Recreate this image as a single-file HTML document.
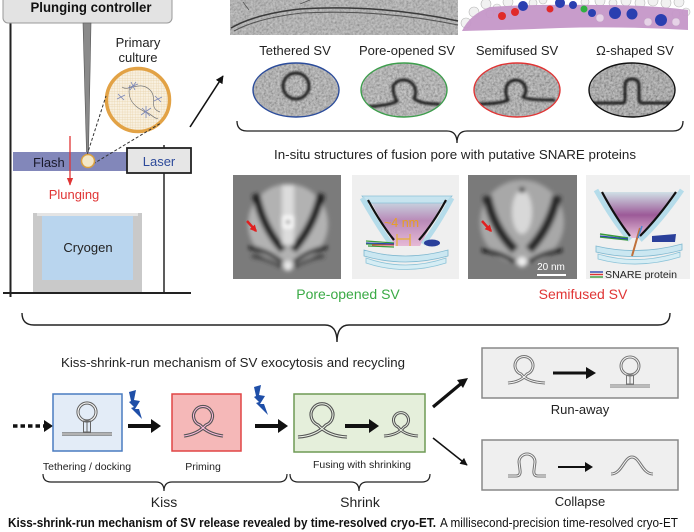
<!DOCTYPE html>
<html><head><meta charset="utf-8">
<style>
html,body{margin:0;padding:0;background:#fff;}
svg{display:block;}
text{font-family:"Liberation Sans",Arial,sans-serif;}
</style></head>
<body>
<svg width="694" height="532" viewBox="0 0 694 532" xmlns="http://www.w3.org/2000/svg">
<defs>
  <filter id="noise" x="0" y="0" width="100%" height="100%">
    <feTurbulence type="fractalNoise" baseFrequency="0.45" numOctaves="2" seed="4"/>
    <feColorMatrix type="matrix" values="1 0 0 0 0  1 0 0 0 0  1 0 0 0 0  0 0 0 0 1"/>
  </filter>
  <filter id="blur2"><feGaussianBlur stdDeviation="2.2"/></filter>
  <filter id="blur1"><feGaussianBlur stdDeviation="1"/></filter>
  <pattern id="grid" width="2.6" height="2.6" patternUnits="userSpaceOnUse">
    <path d="M0,0 L2.6,0 M0,0 L0,2.6" stroke="#e6cfa4" stroke-width="0.6"/>
  </pattern>
  <clipPath id="c1"><ellipse cx="296" cy="90" rx="43" ry="27"/></clipPath>
  <clipPath id="c2"><ellipse cx="404" cy="90" rx="43" ry="27"/></clipPath>
  <clipPath id="c3"><ellipse cx="517" cy="90" rx="43" ry="27"/></clipPath>
  <clipPath id="c4"><ellipse cx="632" cy="90" rx="43" ry="27"/></clipPath>
  <clipPath id="ci1"><rect x="233" y="175" width="108" height="104"/></clipPath>
  <clipPath id="ci3"><rect x="468" y="175" width="109" height="104"/></clipPath>
  <clipPath id="cc"><circle cx="138" cy="100" r="30"/></clipPath>
  <linearGradient id="fun1" x1="0" y1="0" x2="0" y2="1">
    <stop offset="0" stop-color="#c9dbe3"/>
    <stop offset="0.45" stop-color="#b98ab8"/>
    <stop offset="1" stop-color="#e6b9d6"/>
  </linearGradient>
  <linearGradient id="fun2" x1="0" y1="0" x2="0" y2="1">
    <stop offset="0" stop-color="#d0e0e6"/>
    <stop offset="0.5" stop-color="#9c5a98"/>
    <stop offset="1" stop-color="#e9bfd9"/>
  </linearGradient>
  <marker id="ah" viewBox="0 0 10 10" refX="9" refY="5" markerWidth="5" markerHeight="5" orient="auto"><path d="M0,0 L10,5 L0,10 Z" fill="#111"/></marker>
  <marker id="ahr" viewBox="0 0 10 10" refX="9" refY="5" markerWidth="6" markerHeight="6" orient="auto"><path d="M0,1 L10,5 L0,9 Z" fill="#e03535"/></marker>
  <marker id="ahs" viewBox="0 0 10 10" refX="8" refY="5" markerWidth="7" markerHeight="7" markerUnits="userSpaceOnUse" orient="auto"><path d="M0,0 L10,5 L0,10 Z" fill="#e02020"/></marker>
</defs>

<!-- ================= LEFT: plunger apparatus ================= -->
<line x1="10.5" y1="0" x2="10.5" y2="297" stroke="#222" stroke-width="2"/>
<rect x="3" y="-6" width="169" height="29" rx="5" fill="#e3e3e3" stroke="#9a9a9a" stroke-width="1"/>
<text x="91" y="12" font-size="13.5" font-weight="bold" text-anchor="middle" fill="#111" textLength="121" lengthAdjust="spacingAndGlyphs">Plunging controller</text>
<polygon points="83,23 91,23 88.5,152 86.5,152" fill="#8a8a8a" stroke="#555" stroke-width="0.6"/>

<rect x="13" y="152" width="116" height="19" fill="#8287ba"/>
<text x="33" y="167" font-size="13" fill="#1a1a2a">Flash</text>
<line x1="164" y1="145" x2="164" y2="293" stroke="#333" stroke-width="1.6"/>
<rect x="127" y="148" width="64" height="25" fill="#e6e6e6" stroke="#222" stroke-width="1.8"/>
<text x="159" y="166" font-size="13" text-anchor="middle" fill="#2d4a9a">Laser</text>

<text x="138" y="47" font-size="13" text-anchor="middle" fill="#222">Primary</text>
<text x="138" y="62" font-size="13" text-anchor="middle" fill="#222">culture</text>
<circle cx="138" cy="100" r="31.5" fill="#f8f0e0"/>
<g clip-path="url(#cc)">
  <rect x="105" y="68" width="66" height="66" fill="url(#grid)"/>
  <path d="M122,87 C128,92 140,80 150,90 C158,98 148,108 160,112 M130,85 C126,100 135,108 148,113 C152,115 156,120 158,118" stroke="#777" stroke-width="0.7" fill="none"/>
  <g stroke="#7a86b8" stroke-width="0.8">
    <path d="M131,82 L135,90 M128,88 L138,84 M130,90 L136,82"/>
    <path d="M142,108 L150,116 M141,115 L151,108 M146,106 L146,118"/>
    <path d="M118,94 L124,100 M117,99 L125,95"/>
    <path d="M155,96 L161,102 M154,101 L162,97"/>
  </g>
</g>
<circle cx="138" cy="100" r="31.5" fill="none" stroke="#e2a245" stroke-width="3.5"/>
<line x1="87" y1="155" x2="106" y2="96" stroke="#333" stroke-width="1" stroke-dasharray="3,2"/>
<line x1="93" y1="164" x2="161" y2="123" stroke="#333" stroke-width="1" stroke-dasharray="3,2"/>
<circle cx="88" cy="161" r="6.5" fill="#f4e8c8" stroke="#d9a040" stroke-width="1.5"/>

<line x1="70" y1="136" x2="70" y2="185" stroke="#e03535" stroke-width="1.3" marker-end="url(#ahr)"/>
<text x="74" y="199" font-size="13" text-anchor="middle" fill="#e03535">Plunging</text>

<rect x="33" y="213" width="109" height="80" fill="#c9c9c9"/>
<rect x="37" y="213" width="101" height="3" fill="#e4e4e4"/>
<rect x="42" y="216" width="91" height="64" fill="#b9d5ee"/>
<text x="88" y="252" font-size="13" text-anchor="middle" fill="#222">Cryogen</text>
<line x1="3" y1="293" x2="191" y2="293" stroke="#222" stroke-width="2"/>

<line x1="190" y1="127" x2="223" y2="76" stroke="#111" stroke-width="1.6" marker-end="url(#ah)"/>

<!-- ================= TOP RIGHT images ================= -->
<rect x="230" y="0" width="228" height="35" fill="#a9a9a9"/>
<rect x="230" y="0" width="228" height="35" filter="url(#noise)" opacity="0.45"/>
<path d="M231,28 Q255,14 300,9 Q380,4 458,21" stroke="#3a3a3a" stroke-width="1.5" fill="none"/>
<path d="M234,31 Q258,18 302,13 Q380,9 458,25" stroke="#555" stroke-width="1.1" fill="none"/>
<path d="M300,4 L310,0 M243,2 L249,10" stroke="#555" stroke-width="0.8" fill="none"/>

<g>
  <g fill="#f1f1f1" stroke="#b8b8b8" stroke-width="0.6">
    <circle cx="466" cy="23" r="5"/><circle cx="474" cy="12" r="5"/><circle cx="486" cy="4" r="5"/>
    <circle cx="497" cy="8" r="4"/><circle cx="508" cy="2" r="5"/><circle cx="533" cy="3" r="4"/>
    <circle cx="543" cy="0" r="4"/><circle cx="585" cy="2" r="4"/><circle cx="600" cy="1" r="5"/>
    <circle cx="613" cy="3" r="4"/><circle cx="626" cy="1" r="5"/><circle cx="640" cy="3" r="5"/>
    <circle cx="653" cy="1" r="5"/><circle cx="666" cy="3" r="5"/><circle cx="679" cy="2" r="5"/>
    <circle cx="686" cy="12" r="4"/><circle cx="676" cy="14" r="4"/><circle cx="490" cy="14" r="4"/>
  </g>
  <path d="M462,31 Q470,14 490,7 Q530,4 600,5 Q650,5 688,10 L688,30 Q620,26 560,28 Q510,30 462,31 Z" fill="#c597c8" opacity="0.95"/>
  <g fill="#f3eaf3" stroke="#bfa5c2" stroke-width="0.5" opacity="0.7">
    <circle cx="648" cy="22" r="4"/><circle cx="676" cy="22" r="4"/><circle cx="600" cy="18" r="4"/>
  </g>
  <g fill="#e02a2a"><circle cx="502" cy="16" r="4"/><circle cx="515" cy="12" r="4"/><circle cx="550" cy="9" r="3.5"/></g>
  <g fill="#2a3fb0"><circle cx="523" cy="6" r="5"/><circle cx="560" cy="3" r="5"/><circle cx="573" cy="5" r="4"/>
    <circle cx="592" cy="13" r="4"/><circle cx="615" cy="13" r="6"/><circle cx="632" cy="14" r="5.5"/><circle cx="661" cy="20" r="6"/></g>
  <circle cx="584" cy="9" r="3.5" fill="#30b040"/>
</g>

<text x="295" y="55" font-size="13" text-anchor="middle" fill="#222">Tethered SV</text>
<text x="407" y="55" font-size="13" text-anchor="middle" fill="#222">Pore-opened SV</text>
<text x="517" y="55" font-size="13" text-anchor="middle" fill="#222">Semifused SV</text>
<text x="635" y="55" font-size="13" text-anchor="middle" fill="#222">Ω-shaped SV</text>

<g clip-path="url(#c1)">
  <rect x="250" y="60" width="95" height="60" fill="#a3a3a3"/>
  <rect x="250" y="60" width="95" height="60" filter="url(#noise)" opacity="0.55"/>
  <circle cx="296" cy="86" r="13" fill="none" stroke="#1e1e1e" stroke-width="3" filter="url(#blur1)"/>
  <path d="M250,105 L345,105" stroke="#2a2a2a" stroke-width="3" filter="url(#blur1)"/>
</g>
<ellipse cx="296" cy="90" rx="43" ry="27" fill="none" stroke="#2b4c9b" stroke-width="1.4"/>

<g clip-path="url(#c2)">
  <rect x="358" y="60" width="95" height="60" fill="#a6a6a6"/>
  <rect x="358" y="60" width="95" height="60" filter="url(#noise)" opacity="0.55"/>
  <path d="M360,107 Q390,106 397,101 Q393,96 393,86 A12,12 0 1 1 414,98 Q418,104 440,104" stroke="#1e1e1e" stroke-width="3" fill="none" filter="url(#blur1)"/>
</g>
<ellipse cx="404" cy="90" rx="43" ry="27" fill="none" stroke="#3d9e4c" stroke-width="1.4"/>

<g clip-path="url(#c3)">
  <rect x="470" y="60" width="95" height="60" fill="#9d9d9d"/>
  <rect x="470" y="60" width="95" height="60" filter="url(#noise)" opacity="0.55"/>
  <path d="M478,104 Q500,104 508,100 Q505,94 506,88 A10,10 0 1 1 523,97 Q526,100 555,100" stroke="#1a1a1a" stroke-width="3" fill="none" filter="url(#blur1)"/>
</g>
<ellipse cx="517" cy="90" rx="43" ry="27" fill="none" stroke="#e03535" stroke-width="1.4"/>

<g clip-path="url(#c4)">
  <rect x="585" y="60" width="95" height="60" fill="#8e8e8e"/>
  <rect x="585" y="60" width="95" height="60" filter="url(#noise)" opacity="0.6"/>
  <path d="M588,103 L623,103 Q625,103 625,98 L625,86 Q625,79 632,79 Q639,79 639,86 L639,98 Q639,103 642,103 L676,103" stroke="#1c1c1c" stroke-width="3" fill="none" filter="url(#blur1)"/>
</g>
<ellipse cx="632" cy="90" rx="43" ry="27" fill="none" stroke="#111" stroke-width="1.4"/>

<path d="M237,121 Q237,131 247,131 L447,131 Q457,131 457,143 Q457,131 467,131 L673,131 Q683,131 683,121" stroke="#222" stroke-width="1.3" fill="none"/>
<text x="455" y="159" font-size="12.5" text-anchor="middle" fill="#222" textLength="362" lengthAdjust="spacingAndGlyphs">In-situ structures of fusion pore with putative SNARE proteins</text>

<g clip-path="url(#ci1)">
  <rect x="233" y="175" width="108" height="104" fill="#7b7b7b"/>
  <g filter="url(#blur2)">
    <circle cx="288" cy="224" r="40" fill="#b2b2b2"/>
    <path d="M256,194 Q262,226 283,250" stroke="#1e1e1e" stroke-width="8" fill="none"/>
    <path d="M321,194 Q314,226 293,250" stroke="#1e1e1e" stroke-width="8" fill="none"/>
    <path d="M249,247 Q268,251 282,262" stroke="#111" stroke-width="4" fill="none"/>
    <path d="M327,247 Q308,251 294,262" stroke="#111" stroke-width="4" fill="none"/>
    <path d="M252,256 Q268,258 282,267" stroke="#333" stroke-width="3" fill="none"/>
    <path d="M324,256 Q308,258 294,267" stroke="#333" stroke-width="3" fill="none"/>
    <rect x="282" y="185" width="12" height="60" fill="#dcdcdc"/>
    <rect x="282" y="216" width="12" height="12" fill="#fff"/>
    <rect x="286" y="220" width="4" height="4" fill="#555"/>
    <circle cx="288" cy="266" r="5" fill="#e8e8e8"/>
  </g>
</g>
<line x1="247" y1="221" x2="256" y2="231" stroke="#e02020" stroke-width="2.5" marker-end="url(#ahs)"/>

<rect x="352" y="175" width="107" height="104" fill="#efefef"/>
<polygon points="370,200 444,200 420,246 395,246" fill="url(#fun1)"/>
<path d="M362,196 L452,196 L446,203 L368,203 Z" fill="#c7e4ef" stroke="#8dc1d6" stroke-width="0.8"/>
<path d="M362,198 Q378,226 391,244" stroke="#b5dcea" stroke-width="5" fill="none"/>
<path d="M452,198 Q437,226 423,244" stroke="#b5dcea" stroke-width="5" fill="none"/>
<path d="M368,200 Q381,224 394,240" stroke="#111" stroke-width="2.2" fill="none"/>
<path d="M446,200 Q433,224 419,240" stroke="#111" stroke-width="2.2" fill="none"/>
<path d="M364,250 Q405,262 448,250 L448,256 Q405,268 364,256 Z" fill="#cbe7f1" stroke="#7fb8d0" stroke-width="0.8"/>
<path d="M366,258 Q405,272 446,258 L446,263 Q405,276 366,263 Z" fill="#d6edf4" stroke="#8cc3d8" stroke-width="0.8"/>
<ellipse cx="432" cy="243" rx="8" ry="3.5" fill="#2a3f9a"/>
<path d="M366,241 L394,243 M366,244 L394,245 M368,246 L394,247" stroke="#3a9a3a" stroke-width="1.2"/>
<path d="M366,243 L394,244" stroke="#2a48b0" stroke-width="1.2"/>
<path d="M372,245 L394,245" stroke="#d33" stroke-width="1"/>
<text x="384" y="227" font-size="12.5" fill="#e8a020">~4 nm</text>
<path d="M397,239 L410,239 M397,234 L397,246 M410,234 L410,246" stroke="#e8b030" stroke-width="1.2"/>

<g clip-path="url(#ci3)">
  <rect x="468" y="175" width="109" height="104" fill="#7a7a7a"/>
  <g filter="url(#blur2)">
    <circle cx="522" cy="222" r="42" fill="#a8a8a8"/>
    <path d="M487,196 Q493,228 515,250" stroke="#262626" stroke-width="9" fill="none"/>
    <path d="M557,196 Q550,228 529,250" stroke="#262626" stroke-width="9" fill="none"/>
    <path d="M482,250 Q500,252 515,262" stroke="#111" stroke-width="4" fill="none"/>
    <path d="M562,250 Q544,252 529,262" stroke="#111" stroke-width="4" fill="none"/>
    <ellipse cx="522" cy="212" rx="10" ry="22" fill="#d8d8d8"/>
    <circle cx="522" cy="190" r="3" fill="#333"/>
    <circle cx="522" cy="262" r="5" fill="#eee"/>
  </g>
</g>
<line x1="482" y1="221" x2="491" y2="231" stroke="#e02020" stroke-width="2.5" marker-end="url(#ahs)"/>
<text x="551" y="270" font-size="10" text-anchor="middle" fill="#fff">20 nm</text>
<rect x="537" y="274" width="29" height="2" fill="#fff"/>

<rect x="586" y="175" width="104" height="104" fill="#f0f0f0"/>
<polygon points="600,192 678,192 640,238 628,238" fill="url(#fun2)"/>
<path d="M596,190 Q614,222 630,240" stroke="#b5dcea" stroke-width="5" fill="none"/>
<path d="M682,190 Q660,222 640,240" stroke="#b5dcea" stroke-width="5" fill="none"/>
<path d="M602,192 Q616,218 630,236" stroke="#111" stroke-width="2.2" fill="none"/>
<path d="M676,192 Q658,218 640,236" stroke="#111" stroke-width="2.2" fill="none"/>
<path d="M596,246 Q638,256 682,244 L682,250 Q638,262 596,252 Z" fill="#cbe7f1" stroke="#7fb8d0" stroke-width="0.8"/>
<path d="M598,254 Q638,266 680,252 L680,257 Q638,270 598,259 Z" fill="#d6edf4" stroke="#8cc3d8" stroke-width="0.8"/>
<path d="M652,236 L676,234 L675,242 L652,242 Z" fill="#2a3f9a"/>
<path d="M600,234 L628,238 M600,237 L628,240" stroke="#3a9a3a" stroke-width="1.4"/>
<path d="M600,236 L628,239" stroke="#2a48b0" stroke-width="1.2"/>
<line x1="640" y1="228" x2="632" y2="256" stroke="#c0703a" stroke-width="2"/>
<line x1="642" y1="226" x2="638" y2="238" stroke="#4a8ad0" stroke-width="1.5"/>
<path d="M590,272 L603,272" stroke="#2a48b0" stroke-width="1.4"/>
<path d="M590,274.5 L603,274.5" stroke="#d33" stroke-width="1.4"/>
<path d="M590,277 L603,277" stroke="#3a9a3a" stroke-width="1.4"/>
<text x="605" y="278" font-size="10.5" fill="#222" textLength="72" lengthAdjust="spacingAndGlyphs">SNARE protein</text>

<text x="348" y="299" font-size="14" text-anchor="middle" fill="#3aaa45">Pore-opened SV</text>
<text x="583" y="299" font-size="14" text-anchor="middle" fill="#e03535">Semifused SV</text>

<path d="M22,313 Q22,325 34,325 L325,325 Q337,325 337,342 Q337,325 349,325 L658,325 Q670,325 670,313" stroke="#222" stroke-width="1.4" fill="none"/>
<text x="233" y="367" font-size="12.5" text-anchor="middle" fill="#222" textLength="344" lengthAdjust="spacingAndGlyphs">Kiss-shrink-run mechanism of SV exocytosis and recycling</text>

<!-- ================= Bottom flow ================= -->
<line x1="13" y1="426" x2="44" y2="426" stroke="#111" stroke-width="3.5" stroke-dasharray="4.5,3"/>
<polygon points="44,420 53,426 44,432" fill="#111"/>

<rect x="53" y="394" width="69" height="57" fill="#e3ecf7" stroke="#4a7cc0" stroke-width="1.5"/>
<g fill="none">
  <circle cx="87" cy="412" r="9" stroke="#666" stroke-width="3.2"/>
  <circle cx="87" cy="412" r="9" stroke="#fff" stroke-width="1.1"/>
  <path d="M62,434 L112,434" stroke="#666" stroke-width="3.2"/>
  <path d="M62,434 L112,434" stroke="#fff" stroke-width="1.1"/>
  <rect x="83.5" y="421" width="7" height="11" stroke="#666" stroke-width="1"/>
  <line x1="87" y1="421" x2="87" y2="432" stroke="#666" stroke-width="1"/>
</g>

<polygon points="129,392 136,390 134,400 140,401 135,409 139,409 142,419 131,408 134,407 129,402 131,401" fill="#1f4fa8"/>
<line x1="128" y1="426" x2="152" y2="426" stroke="#111" stroke-width="4"/>
<polygon points="151,419 161,426 151,433" fill="#111"/>

<rect x="172" y="394" width="69" height="57" fill="#f5b8b8" stroke="#e04545" stroke-width="1.5"/>
<g fill="none">
  <path d="M184,436 Q198,434 206,425 A9.5,9.5 0 1 0 200,425 Q208,434 223,436" stroke="#555" stroke-width="3.2"/>
  <path d="M184,436 Q198,434 206,425 A9.5,9.5 0 1 0 200,425 Q208,434 223,436" stroke="#fbd" stroke-width="1"/>
</g>

<polygon points="254,387 261,385 259,395 265,396 260,404 264,404 268,415 256,403 259,402 254,397 256,396" fill="#1f4fa8"/>
<line x1="255" y1="426" x2="279" y2="426" stroke="#111" stroke-width="4"/>
<polygon points="278,419 288,426 278,433" fill="#111"/>

<rect x="294" y="394" width="131" height="58" fill="#e5efdb" stroke="#6f9a55" stroke-width="1.5"/>
<g fill="none">
  <path d="M298,437 Q316,436 326,425 A11,11 0 1 0 318,425 Q328,436 347,437" stroke="#555" stroke-width="3.2"/>
  <path d="M298,437 Q316,436 326,425 A11,11 0 1 0 318,425 Q328,436 347,437" stroke="#eef5e8" stroke-width="1"/>
  <path d="M384,436 Q398,435 404,427 A7.5,7.5 0 1 0 398,427 Q404,435 418,436" stroke="#555" stroke-width="3"/>
  <path d="M384,436 Q398,435 404,427 A7.5,7.5 0 1 0 398,427 Q404,435 418,436" stroke="#eef5e8" stroke-width="0.9"/>
</g>
<line x1="345" y1="426" x2="370" y2="426" stroke="#111" stroke-width="4"/>
<polygon points="369,419 379,426 369,433" fill="#111"/>

<text x="87" y="470" font-size="10.5" text-anchor="middle" fill="#222">Tethering / docking</text>
<text x="203" y="470" font-size="10.5" text-anchor="middle" fill="#222">Priming</text>
<text x="362" y="468" font-size="10.5" text-anchor="middle" fill="#222">Fusing with shrinking</text>

<path d="M43,474 Q43,482 51,482 L156,482 Q164,482 164,491 Q164,482 172,482 L279,482 Q287,482 287,474" stroke="#222" stroke-width="1.2" fill="none"/>
<path d="M290,474 Q290,482 298,482 L351,482 Q359,482 359,491 Q359,482 367,482 L422,482 Q430,482 430,474" stroke="#222" stroke-width="1.2" fill="none"/>
<text x="164" y="507" font-size="14" text-anchor="middle" fill="#222">Kiss</text>
<text x="360" y="507" font-size="14" text-anchor="middle" fill="#222">Shrink</text>

<line x1="433" y1="407" x2="463" y2="382" stroke="#111" stroke-width="3.2"/>
<polygon points="468,378 457,380 463,388" fill="#111"/>
<line x1="433" y1="438" x2="467" y2="465" stroke="#111" stroke-width="1.5" marker-end="url(#ah)"/>

<rect x="482" y="348" width="196" height="50" fill="#efefef" stroke="#888" stroke-width="1.5"/>
<g fill="none">
  <path d="M508,383 Q521,382 527,374 A9,9 0 1 0 521,374 Q527,382 545,383" stroke="#777" stroke-width="3"/>
  <path d="M508,383 Q521,382 527,374 A9,9 0 1 0 521,374 Q527,382 545,383" stroke="#fff" stroke-width="0.9"/>
  <circle cx="630" cy="366" r="9" stroke="#777" stroke-width="3"/>
  <circle cx="630" cy="366" r="9" stroke="#fff" stroke-width="0.9"/>
  <path d="M610,386 L650,386" stroke="#777" stroke-width="3"/>
  <path d="M610,386 L650,386" stroke="#fff" stroke-width="0.9"/>
  <rect x="626.5" y="375" width="7" height="9" stroke="#777" stroke-width="1"/>
  <line x1="630" y1="375" x2="630" y2="384" stroke="#777" stroke-width="1"/>
</g>
<line x1="553" y1="373" x2="588" y2="373" stroke="#111" stroke-width="3"/>
<polygon points="586,367 596,373 586,379" fill="#111"/>
<text x="580" y="414" font-size="13" text-anchor="middle" fill="#222">Run-away</text>

<rect x="482" y="440" width="196" height="50" fill="#efefef" stroke="#888" stroke-width="1.5"/>
<g fill="none">
  <path d="M508,476 L516,476 Q521,476 520,470 L519,462 A8,8 0 0 1 535,462 L534,470 Q533,476 538,476 L546,476" stroke="#777" stroke-width="3"/>
  <path d="M508,476 L516,476 Q521,476 520,470 L519,462 A8,8 0 0 1 535,462 L534,470 Q533,476 538,476 L546,476" stroke="#fff" stroke-width="0.9"/>
  <path d="M611,474 C622,474 624,457 632,457 C640,457 642,474 653,474" stroke="#777" stroke-width="3"/>
  <path d="M611,474 C622,474 624,457 632,457 C640,457 642,474 653,474" stroke="#fff" stroke-width="0.9"/>
</g>
<line x1="558" y1="467" x2="586" y2="467" stroke="#111" stroke-width="2"/>
<polygon points="585,462 593,467 585,472" fill="#111"/>
<text x="580" y="506" font-size="13" text-anchor="middle" fill="#222">Collapse</text>

<text x="8" y="527" font-size="12.5" font-weight="bold" fill="#111" textLength="428" lengthAdjust="spacingAndGlyphs">Kiss-shrink-run mechanism of SV release revealed by time-resolved cryo-ET.</text>
<text x="440" y="527" font-size="12.5" fill="#111" textLength="238" lengthAdjust="spacingAndGlyphs">A millisecond-precision time-resolved cryo-ET</text>
</svg>
</body></html>
